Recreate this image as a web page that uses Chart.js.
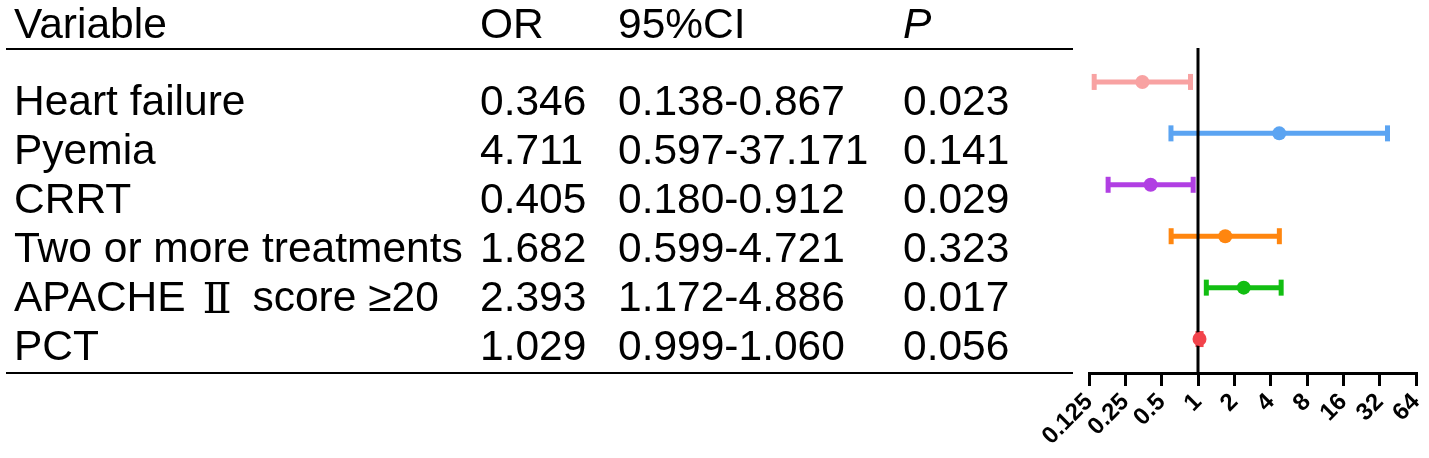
<!DOCTYPE html>
<html><head><meta charset="utf-8">
<script src="https://cdn.jsdelivr.net/npm/chart.js@4/dist/chart.umd.min.js"></script>
<style>html,body{margin:0;padding:0;background:#fff;}#wrap{width:1429px;height:458px;position:relative;}</style>
</head><body><div id="wrap"><canvas id="c"></canvas></div>
<script>
const variables = ["Heart failure", "Pyemia", "CRRT", "Two or more treatments", "APACHE Ⅱ score ≥20", "PCT"];
const orValues = [0.346, 4.711, 0.405, 1.682, 2.393, 1.029];
const ciLower = [0.138, 0.597, 0.180, 0.599, 1.172, 0.999];
const ciUpper = [0.867, 37.171, 0.912, 4.721, 4.886, 1.060];
const pValues = ["0.023", "0.141", "0.029", "0.323", "0.017", "0.056"];
const headers = ["Variable", "OR", "95%CI", "P"];
const xTicks = [0.125, 0.25, 0.5, 1, 2, 4, 8, 16, 32, 64];
const refValue = 1;
const rowColors = ["#F8A2A2", "#5BA4F2", "#B13FE3", "#FF860F", "#12BE12", "#F2434B"];

const datasets = [];
variables.forEach((v, i) => {
  datasets.push({
    label: v + " CI", data: [{x: ciLower[i], y: i}, {x: ciUpper[i], y: i}],
    showLine: true, borderColor: rowColors[i], borderWidth: 5, pointRadius: 0, order: 3
  });
  datasets.push({
    label: v + " caps", data: [{x: ciLower[i], y: i}, {x: ciUpper[i], y: i}],
    showLine: false, pointStyle: 'line', rotation: 90, pointRadius: 8, pointBorderWidth: 5,
    borderColor: rowColors[i], pointBorderColor: rowColors[i], order: 3
  });
});
datasets.push({
  label: "ref", data: [{x: refValue, y: -0.72}, {x: refValue, y: 5.7}],
  showLine: true, borderColor: "#000", borderWidth: 3, pointRadius: 0, order: 2
});
variables.forEach((v, i) => {
  datasets.push({
    label: v + " OR", data: [{x: orValues[i], y: i}],
    pointRadius: 7, pointBackgroundColor: rowColors[i], pointBorderWidth: 0, order: 1
  });
});

function drawMixed(ctx, text, x, y, font, numFont) {
  const parts = text.split(/(Ⅱ)/);
  let cx = x;
  parts.forEach(p => {
    if (!p) return;
    if (p === "Ⅱ") {
      ctx.font = numFont;
      cx += 5;
      ctx.fillText(p, cx, y + 2);
      cx += ctx.measureText(p).width + 9;
    } else {
      ctx.font = font;
      ctx.fillText(p, cx, y);
      cx += ctx.measureText(p).width;
    }
  });
}

const tablePlugin = {
  id: 'table',
  afterDraw(chart) {
    const ctx = chart.ctx;
    ctx.save();
    ctx.fillStyle = "#000";
    ctx.textBaseline = "alphabetic";
    ctx.textAlign = "left";
    const font = '42.5px "Liberation Sans", Arial, sans-serif';
    const numFont = '43px "DejaVu Serif", "Liberation Serif", serif';
    const cols = [14, 480, 618, 903];
    headers.forEach((h, j) => {
      ctx.font = (j === 3 ? 'italic ' : '') + font;
      ctx.fillText(h, cols[j], 38);
    });
    variables.forEach((v, i) => {
      const y = 115 + 49 * i;
      drawMixed(ctx, v, cols[0], y, font, numFont);
      ctx.font = font;
      ctx.fillText(orValues[i].toFixed(3), cols[1], y);
      ctx.fillText(ciLower[i].toFixed(3) + "-" + ciUpper[i].toFixed(3), cols[2], y);
      ctx.fillText(pValues[i], cols[3], y);
    });
    ctx.strokeStyle = "#000";
    ctx.lineWidth = 2;
    ctx.beginPath();
    ctx.moveTo(6, 49); ctx.lineTo(1073, 49);
    ctx.moveTo(6, 373); ctx.lineTo(1073, 373);
    ctx.stroke();
    ctx.restore();
  }
};

new Chart(document.getElementById('c'), {
  type: 'scatter',
  data: { datasets },
  plugins: [tablePlugin],
  options: {
    responsive: true, maintainAspectRatio: false, animation: false,
    layout: { padding: { left: 1089, right: 13, top: 48, bottom: 0 } },
    plugins: { legend: { display: false }, tooltip: { enabled: false } },
    scales: {
      x: {
        type: 'logarithmic', min: 0.125, max: 64,
        afterBuildTicks: (s) => { s.ticks = xTicks.map(v => ({ value: v })); },
        afterFit: (s) => { s.height = 85; s.paddingLeft = 0; s.paddingRight = 0; },
        ticks: {
          autoSkip: false, maxRotation: 45, minRotation: 45, padding: 2,
          color: "#000", font: { family: '"Liberation Sans", Arial, sans-serif', weight: 'bold', size: 24 },
          callback: (v) => String(v)
        },
        grid: { drawOnChartArea: false, drawTicks: true, tickLength: 13, color: "#000", lineWidth: 3 },
        border: { color: "#000", width: 3 }
      },
      y: { type: 'linear', min: -0.66, max: 5.66, reverse: true, display: false }
    }
  }
});
</script></body></html>
